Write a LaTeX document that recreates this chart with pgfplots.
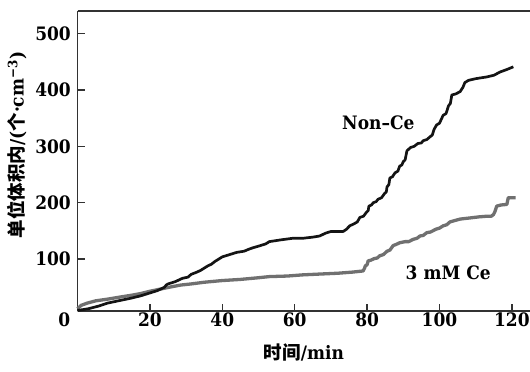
\documentclass[border=0pt]{standalone}
\usepackage{pgfplots}
\pgfplotsset{compat=1.18}
\usepackage{fontspec}
\setmainfont{DejaVu Serif}[FakeStretch=0.92]
\newfontfamily\cjk{Noto Sans CJK SC}
\newcommand\lbl{\fontsize{18.5bp}{22bp}\selectfont\bfseries}
\definecolor{cegray}{RGB}{112,112,112}
\definecolor{noncol}{RGB}{20,20,20}
\definecolor{axcol}{RGB}{50,50,50}

\begin{document}
\begin{tikzpicture}
\path[use as bounding box] (0,0) rectangle (530bp,372bp);
\begin{axis}[
  at={(77.5bp,61bp)}, anchor=south west,
  scale only axis,
  width=452.5bp, height=300bp,
  xmin=0, xmax=125, ymin=8, ymax=540,
  axis lines=left,
  axis line style={-, line width=1.5bp, color=axcol},
  tick style={line width=1.3bp, color=axcol},
  tick align=inside,
  major tick length=7bp,
  xtick={20,40,60,80,100,120},
  ytick={100,200,300,400,500},
  /pgf/number format/assume math mode=true,
  xticklabel style={font=\lbl, inner sep=0pt, yshift=-2bp},
  yticklabel style={font=\lbl, inner sep=0pt, xshift=-6.5bp},
  clip=false,
]
% top frame line
\draw[line width=1.5bp, color=axcol] (rel axis cs:0,1) -- (rel axis cs:1,1);

% 3 mM Ce
\addplot[color=cegray, line width=3.3bp, line join=round] coordinates {
(0,12) (1,18) (2.7,22) (5,26) (8.3,29) (12,33) (15,36) (17.5,39) (20,43)
(23,47) (26,51) (28.5,54) (31.4,56) (35,59) (40,62) (45,64) (50,67)
(53,69) (58,70) (62,72) (66.9,73.5) (72,75) (76,77) (78.9,79) (79.3,84)
(79.5,88) (80,90) (80.3,97) (81,98) (82,101) (82.8,102) (83.5,106)
(84.5,108) (85.5,114) (86.3,116) (87.2,124) (88,126) (89,129) (90.5,131)
(91.5,131) (92.7,135) (93.8,137) (94.6,141) (95.5,142) (96.5,147)
(97.5,148) (99,153) (100,155) (101,159) (102,161) (102.9,166) (104,168)
(105.7,171) (107,172) (108.4,173) (111,175) (113,176) (114.3,176)
(114.9,179) (115.3,184) (115.5,188) (115.8,194) (117,196) (118.6,197)
(119,209) (121,209)
};

% Non-Ce
\addplot[color=noncol, line width=2.7bp, line join=round] coordinates {
(0,9) (3,12) (6,17) (8.3,22) (12,27) (15,31) (17.5,35) (20,40) (22,44)
(24,50) (24.5,54) (25,56) (27,60) (29,66) (30.5,68) (31.4,73) (33,77)
(34,80) (35,84) (36,88) (37,91) (38,96) (39,100) (40,104) (42,108)
(44,112) (46,114) (47.5,118) (48.4,120) (50,123) (51,125) (52,127)
(53,131) (54,132) (56,134) (59.5,137) (62.3,137) (65,139) (66.9,141)
(68.5,146) (70,149) (73.4,149) (74.3,153) (75.2,159) (76.5,163)
(77.3,166) (78,174) (79,176) (79.8,183) (80.3,186) (80.5,194) (81.2,196)
(81.7,200) (82.5,202) (83,206) (84,209) (84.9,217) (85.3,219) (85.5,228)
(86,232) (86.3,244) (87,246) (87.7,253) (88.5,256) (89,265) (89.6,267)
(90,273) (90.5,276) (91,292) (92,298) (93,300) (94,305) (95,306)
(95.5,310) (96.5,312) (97.4,317) (98,320) (98.5,330) (99.2,338)
(100,341) (101,355) (101.8,358) (102.5,372) (103,376) (103.4,391)
(104.5,393) (105.7,397) (106,400) (106.5,405) (107,413) (108,417)
(110,420) (113,423) (115,426) (116.8,432) (118.5,436) (120.4,441)
};

\node[font=\lbl] at (axis cs:83.1,342) {Non–Ce};
\node[font=\lbl] at (axis cs:102.4,75) {3 mM Ce};
\node[font=\lbl, anchor=north east, inner sep=0pt, xshift=-7bp, yshift=-2bp]
  at (rel axis cs:0,0) {0};
\end{axis}
\node[font=\lbl] at (304bp,19.3bp) {{\cjk 时间}/min};
\node[font=\lbl, rotate=90] at (17bp,227bp)
  {{\cjk 单位体积内}/({\cjk 个}·cm\textsuperscript{−3})};
\end{tikzpicture}
\end{document}
